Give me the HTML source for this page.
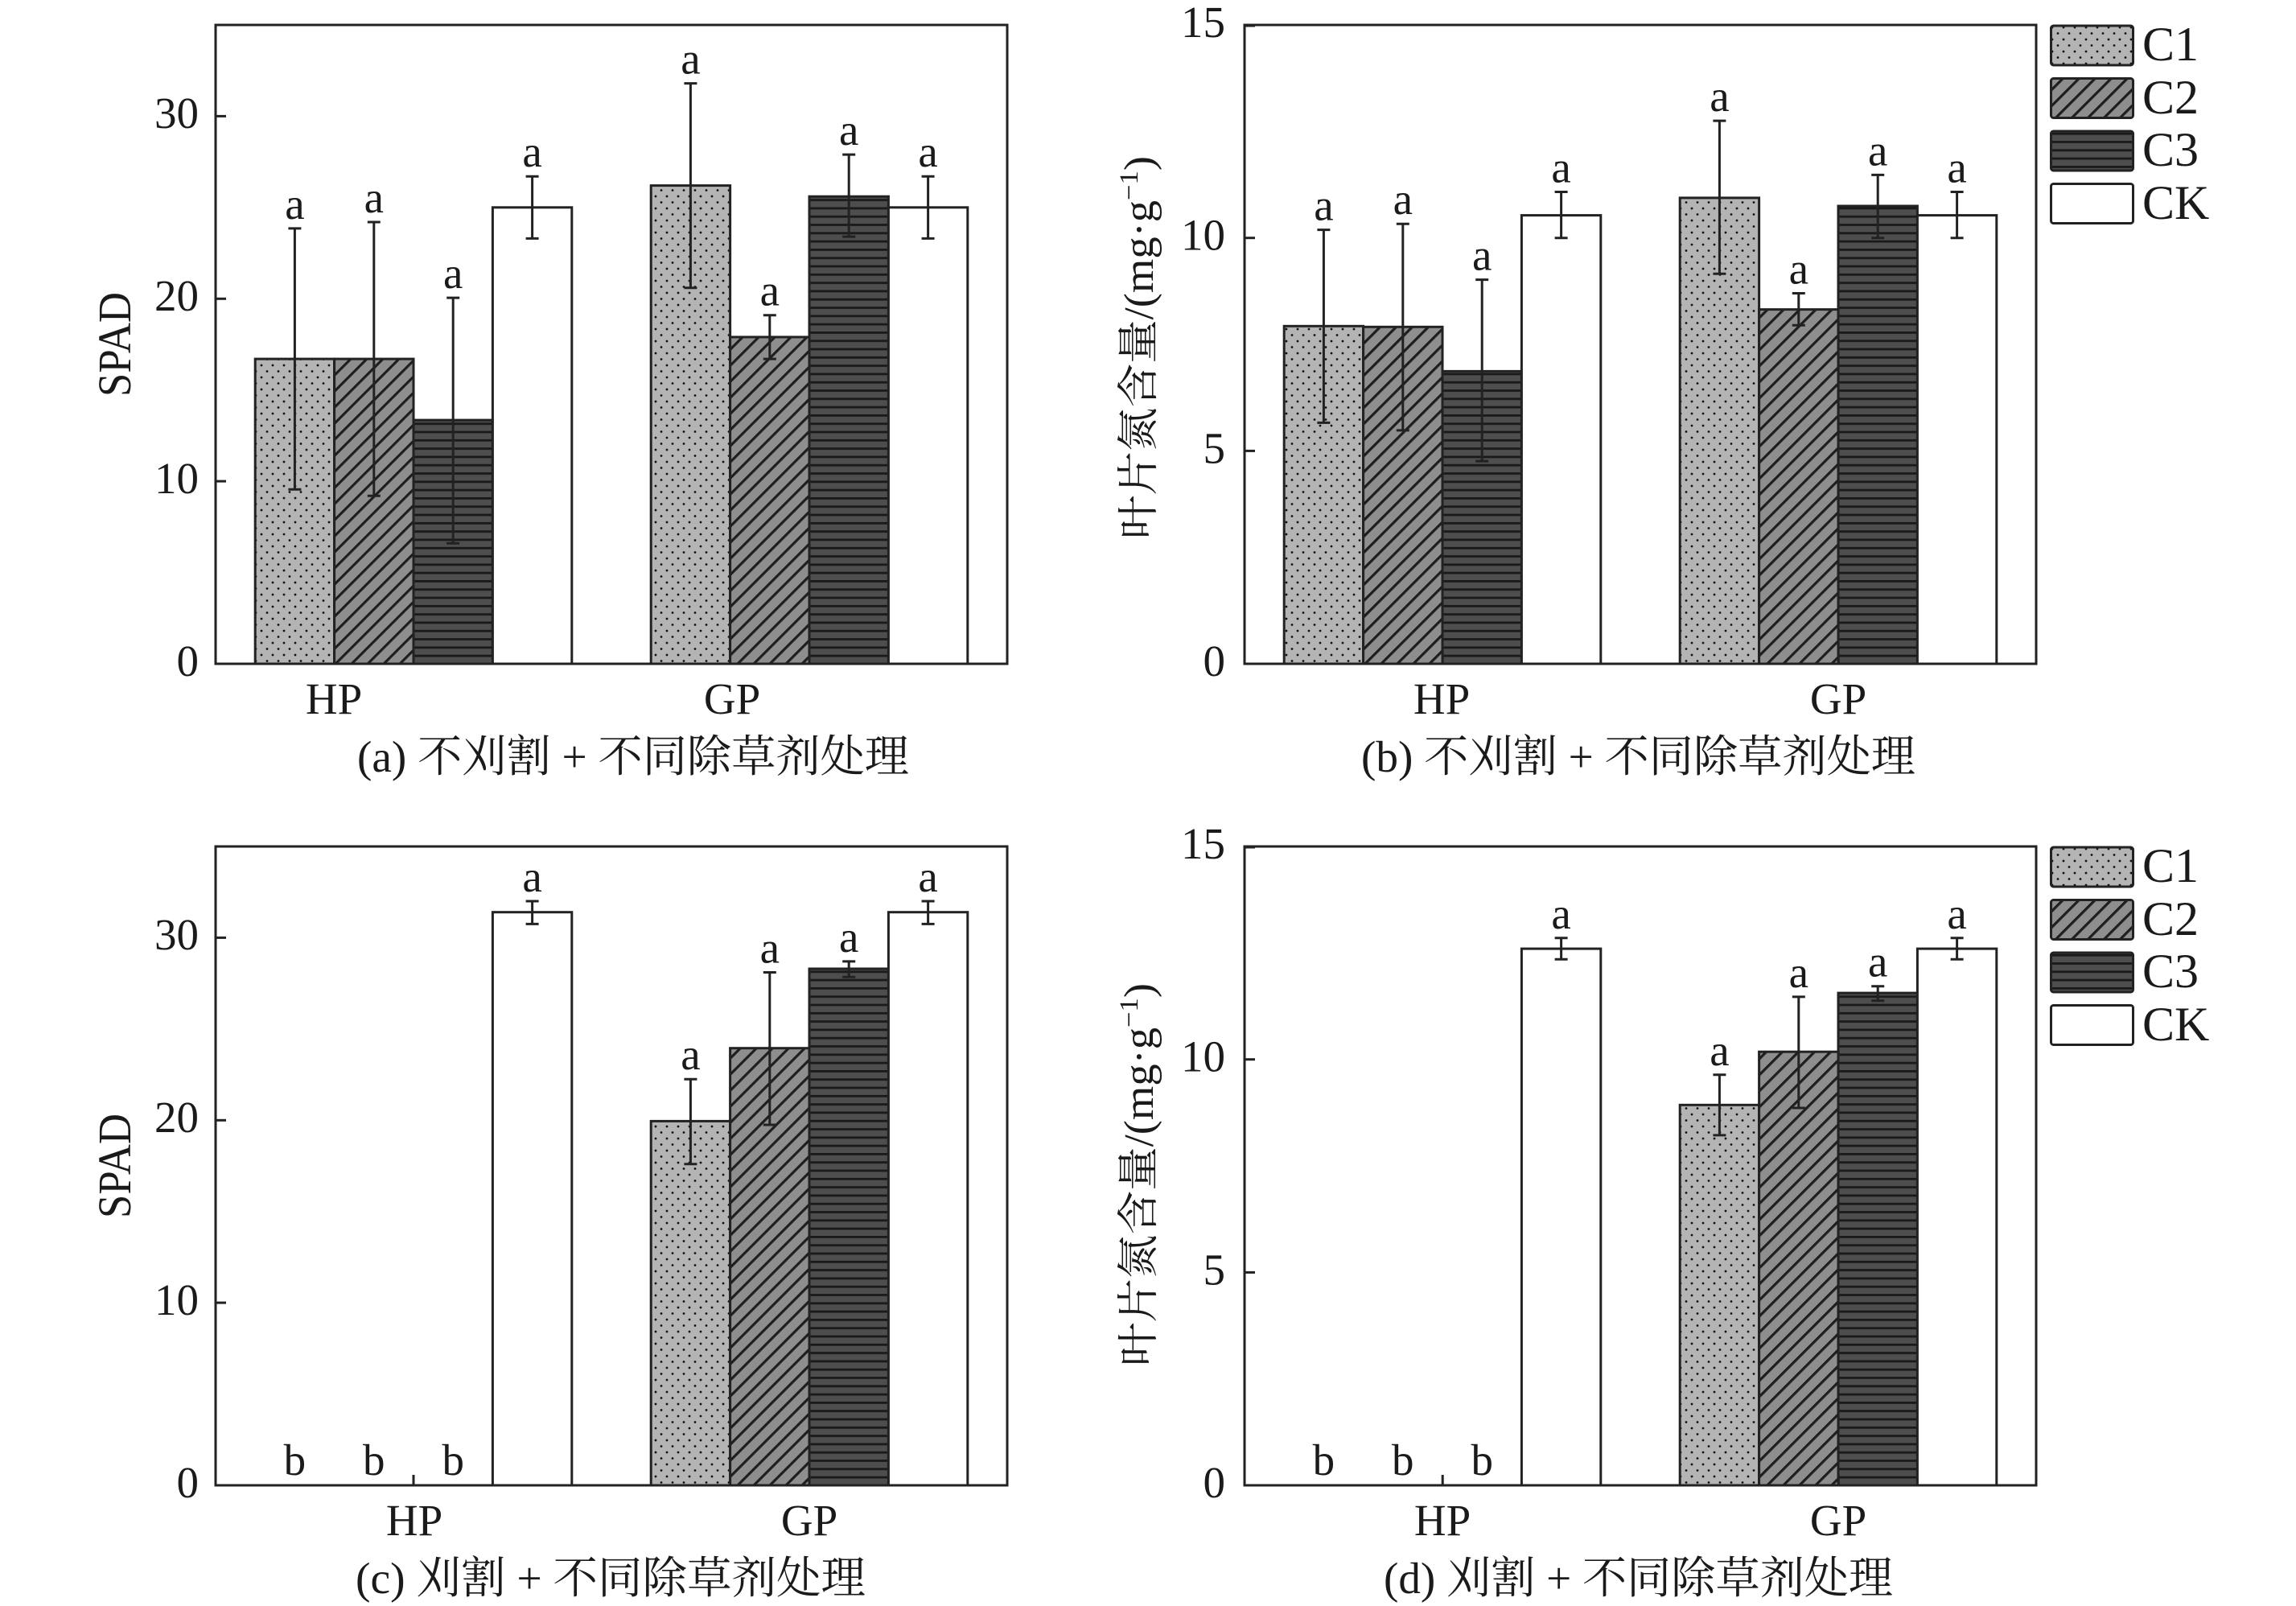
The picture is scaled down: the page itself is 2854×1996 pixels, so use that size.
<!DOCTYPE html>
<html><head><meta charset="utf-8"><style>html,body{margin:0;padding:0;background:#fff;}svg{display:block;}</style></head>
<body>
<svg xmlns="http://www.w3.org/2000/svg" width="2854" height="1996" viewBox="0 0 2854 1996" font-family="'Liberation Serif','Noto Serif CJK SC',serif" fill="#1a1a1a">
<defs>
<pattern id="dots" width="14" height="15" patternUnits="userSpaceOnUse"><rect width="14" height="15" fill="#b4b4b4"/><circle cx="3" cy="4" r="1.4" fill="#111"/><circle cx="10" cy="11.5" r="1.4" fill="#111"/></pattern>
<pattern id="diag" width="14.14" height="14.14" patternUnits="userSpaceOnUse" patternTransform="rotate(45)"><rect width="15" height="15" fill="#8e8e8e"/><rect width="3.2" height="15" fill="#1e1e1e"/></pattern>
<pattern id="hz" width="10" height="10.3" patternUnits="userSpaceOnUse"><rect width="10" height="10.3" fill="#4e4e4e"/><rect width="10" height="2.8" fill="#1a1a1a"/></pattern>
<g id="axA">
<line x1="268" y1="598.1" x2="281" y2="598.1" stroke="#222" stroke-width="3"/>
<line x1="268" y1="371.3" x2="281" y2="371.3" stroke="#222" stroke-width="3"/>
<line x1="268" y1="144.4" x2="281" y2="144.4" stroke="#222" stroke-width="3"/>
<line x1="514" y1="825" x2="514" y2="812" stroke="#222" stroke-width="3"/>
<line x1="1006" y1="825" x2="1006" y2="812" stroke="#222" stroke-width="3"/>
<g font-size="55" text-anchor="end"><text x="247" y="840">0</text><text x="247" y="613">10</text><text x="247" y="386">20</text><text x="247" y="159">30</text></g>
<text transform="translate(162,428) rotate(-90)" text-anchor="middle" font-size="58" textLength="130" lengthAdjust="spacingAndGlyphs">SPAD</text>
</g>
<g id="axB">
<line x1="1547" y1="560.4" x2="1560" y2="560.4" stroke="#222" stroke-width="3"/>
<line x1="1547" y1="295.7" x2="1560" y2="295.7" stroke="#222" stroke-width="3"/>
<line x1="1547" y1="32" x2="1560" y2="32" stroke="#222" stroke-width="3"/>
<line x1="1793.2" y1="825" x2="1793.2" y2="812" stroke="#222" stroke-width="3"/>
<line x1="2285.2" y1="825" x2="2285.2" y2="812" stroke="#222" stroke-width="3"/>
<g font-size="55" text-anchor="end"><text x="1523" y="840">0</text><text x="1523" y="575.4">5</text><text x="1523" y="310.7">10</text><text x="1523" y="46">15</text></g>
<g stroke="#222" stroke-width="3">
<rect x="2549.5" y="32" width="102" height="49" rx="3" fill="url(#dots)"/>
<rect x="2549.5" y="97.5" width="102" height="49" rx="3" fill="url(#diag)"/>
<rect x="2549.5" y="163" width="102" height="49" rx="3" fill="url(#hz)"/>
<rect x="2549.5" y="228.5" width="102" height="49" rx="3" fill="#fff"/>
</g>
<g font-size="60"><text x="2663" y="75">C1</text><text x="2663" y="141">C2</text><text x="2663" y="206">C3</text><text x="2663" y="272">CK</text></g>
</g>
</defs>

<!-- Panel a -->
<g>
<g stroke="#222" stroke-width="3">
<rect x="317.2" y="446.1" width="98.4" height="378.9" fill="url(#dots)"/>
<rect x="415.6" y="446.1" width="98.4" height="378.9" fill="url(#diag)"/>
<rect x="514" y="522.1" width="98.4" height="302.9" fill="url(#hz)"/>
<rect x="612.4" y="257.8" width="98.4" height="567.2" fill="#fff"/>
<rect x="809.2" y="230.6" width="98.4" height="594.4" fill="url(#dots)"/>
<rect x="907.6" y="418.9" width="98.4" height="406.1" fill="url(#diag)"/>
<rect x="1006" y="244.2" width="98.4" height="580.8" fill="url(#hz)"/>
<rect x="1104.4" y="257.8" width="98.4" height="567.2" fill="#fff"/>
<path fill="none" d="M366.4 283.9V608.3M358.4 283.9H374.4M358.4 608.3H374.4
M464.8 276V616.3M456.8 276H472.8M456.8 616.3H472.8
M563.2 370.1V675.3M555.2 370.1H571.2M555.2 675.3H571.2
M661.6 219.3V296.4M653.6 219.3H669.6M653.6 296.4H669.6
M858.4 103.6V357.7M850.4 103.6H866.4M850.4 357.7H866.4
M956.8 391.7V446.1M948.8 391.7H964.8M948.8 446.1H964.8
M1055.2 192.1V294.1M1047.2 192.1H1063.2M1047.2 294.1H1063.2
M1153.6 219.3V296.4M1145.6 219.3H1161.6M1145.6 296.4H1161.6"/>
<rect x="268" y="31" width="984" height="794" fill="none"/>
</g>
<use href="#axA"/>
<g font-size="55" text-anchor="middle">
<text x="366.4" y="272">a</text><text x="464.8" y="264">a</text><text x="563.2" y="358">a</text><text x="661.6" y="207">a</text>
<text x="858.4" y="91.6">a</text><text x="956.8" y="379.7">a</text><text x="1055.2" y="180">a</text><text x="1153.6" y="207">a</text>
<text x="415" y="887">HP</text><text x="910" y="887">GP</text>
</g>
<text x="444" y="959" font-size="55" textLength="686" lengthAdjust="spacingAndGlyphs">(a) 不刈割 + 不同除草剂处理</text>
</g>

<!-- Panel b -->
<g>
<g stroke="#222" stroke-width="3">
<rect x="1596.2" y="405.3" width="98.4" height="419.7" fill="url(#dots)"/>
<rect x="1694.6" y="406.3" width="98.4" height="418.7" fill="url(#diag)"/>
<rect x="1793" y="461.4" width="98.4" height="363.6" fill="url(#hz)"/>
<rect x="1891.4" y="267.6" width="98.4" height="557.4" fill="#fff"/>
<rect x="2088.2" y="245.9" width="98.4" height="579.1" fill="url(#dots)"/>
<rect x="2186.6" y="384.6" width="98.4" height="440.4" fill="url(#diag)"/>
<rect x="2285" y="256" width="98.4" height="569" fill="url(#hz)"/>
<rect x="2383.4" y="267.6" width="98.4" height="557.4" fill="#fff"/>
<path fill="none" d="M1645.4 285.6V525.4M1637.4 285.6H1653.4M1637.4 525.4H1653.4
M1743.8 278.2V534.9M1735.8 278.2H1751.8M1735.8 534.9H1751.8
M1842.2 347.6V573.1M1834.2 347.6H1850.2M1834.2 573.1H1850.2
M1940.6 238.5V295.7M1932.6 238.5H1948.6M1932.6 295.7H1948.6
M2137.4 150.1V340.2M2129.4 150.1H2145.4M2129.4 340.2H2145.4
M2235.8 364.5V404.2M2227.8 364.5H2243.8M2227.8 404.2H2243.8
M2334.2 217.4V295.7M2326.2 217.4H2342.2M2326.2 295.7H2342.2
M2432.6 238.5V295.7M2424.6 238.5H2440.6M2424.6 295.7H2440.6"/>
<rect x="1547" y="31" width="984" height="794" fill="none"/>
</g>
<use href="#axB"/>
<g font-size="55" text-anchor="middle">
<text x="1645.4" y="273.6">a</text><text x="1743.8" y="266.2">a</text><text x="1842.2" y="335.6">a</text><text x="1940.6" y="226.5">a</text>
<text x="2137.4" y="138.1">a</text><text x="2235.8" y="352.5">a</text><text x="2334.2" y="205.4">a</text><text x="2432.6" y="226.5">a</text>
<text x="1792" y="887">HP</text><text x="2285" y="887">GP</text>
</g>
<text transform="translate(1433,432) rotate(-90)" text-anchor="middle" font-size="52" textLength="476" lengthAdjust="spacingAndGlyphs">叶片氮含量/(mg·g<tspan font-size="33" dy="-19">−1</tspan><tspan dy="19">)</tspan></text>
<text x="1692" y="959" font-size="55" textLength="689" lengthAdjust="spacingAndGlyphs">(b) 不刈割 + 不同除草剂处理</text>
</g>

<!-- Panel c -->
<g transform="translate(0,1021)">
<g stroke="#222" stroke-width="3">
<rect x="612.4" y="112.7" width="98.4" height="712.3" fill="#fff"/>
<rect x="809.2" y="372.4" width="98.4" height="452.6" fill="url(#dots)"/>
<rect x="907.6" y="281.7" width="98.4" height="543.3" fill="url(#diag)"/>
<rect x="1006" y="183" width="98.4" height="642" fill="url(#hz)"/>
<rect x="1104.4" y="112.7" width="98.4" height="712.3" fill="#fff"/>
<path fill="none" d="M661.6 99V127.4M653.6 99H669.6M653.6 127.4H669.6
M858.4 320.2V425.7M850.4 320.2H866.4M850.4 425.7H866.4
M956.8 187.5V377M948.8 187.5H964.8M948.8 377H964.8
M1055.2 173.9V193.2M1047.2 173.9H1063.2M1047.2 193.2H1063.2
M1153.6 99V127.4M1145.6 99H1161.6M1145.6 127.4H1161.6"/>
<rect x="268" y="31" width="984" height="794" fill="none"/>
</g>
<use href="#axA"/>
<g font-size="55" text-anchor="middle">
<text x="366.4" y="812">b</text><text x="464.8" y="812">b</text><text x="563.2" y="812">b</text><text x="661.6" y="87">a</text>
<text x="858.4" y="308.2">a</text><text x="956.8" y="175.5">a</text><text x="1055.2" y="161.9">a</text><text x="1153.6" y="87">a</text>
<text x="515" y="887">HP</text><text x="1006" y="887">GP</text>
</g>
<text x="442" y="959" font-size="55" textLength="634" lengthAdjust="spacingAndGlyphs">(c) 刈割 + 不同除草剂处理</text>
</g>

<!-- Panel d -->
<g transform="translate(0,1021)">
<g stroke="#222" stroke-width="3">
<rect x="1891.4" y="158.1" width="98.4" height="666.9" fill="#fff"/>
<rect x="2088.2" y="352.3" width="98.4" height="472.7" fill="url(#dots)"/>
<rect x="2186.6" y="286.2" width="98.4" height="538.8" fill="url(#diag)"/>
<rect x="2285" y="213.1" width="98.4" height="611.9" fill="url(#hz)"/>
<rect x="2383.4" y="158.1" width="98.4" height="666.9" fill="#fff"/>
<path fill="none" d="M1940.6 144.8V171.3M1932.6 144.8H1948.6M1932.6 171.3H1948.6
M2137.4 314.8V389.9M2129.4 314.8H2145.4M2129.4 389.9H2145.4
M2235.8 217.9V356M2227.8 217.9H2243.8M2227.8 356H2243.8
M2334.2 204.7V222.7M2326.2 204.7H2342.2M2326.2 222.7H2342.2
M2432.6 144.8V171.3M2424.6 144.8H2440.6M2424.6 171.3H2440.6"/>
<rect x="1547" y="31" width="984" height="794" fill="none"/>
</g>
<use href="#axB"/>
<g font-size="55" text-anchor="middle">
<text x="1645.4" y="812">b</text><text x="1743.8" y="812">b</text><text x="1842.2" y="812">b</text><text x="1940.6" y="132.8">a</text>
<text x="2137.4" y="302.8">a</text><text x="2235.8" y="205.9">a</text><text x="2334.2" y="192.7">a</text><text x="2432.6" y="132.8">a</text>
<text x="1793" y="887">HP</text><text x="2285" y="887">GP</text>
</g>
<text transform="translate(1433,439) rotate(-90)" text-anchor="middle" font-size="52" textLength="476" lengthAdjust="spacingAndGlyphs">叶片氮含量/(mg·g<tspan font-size="33" dy="-19">−1</tspan><tspan dy="19">)</tspan></text>
<text x="1720" y="959" font-size="55" textLength="633" lengthAdjust="spacingAndGlyphs">(d) 刈割 + 不同除草剂处理</text>
</g>
</svg>
</body></html>
